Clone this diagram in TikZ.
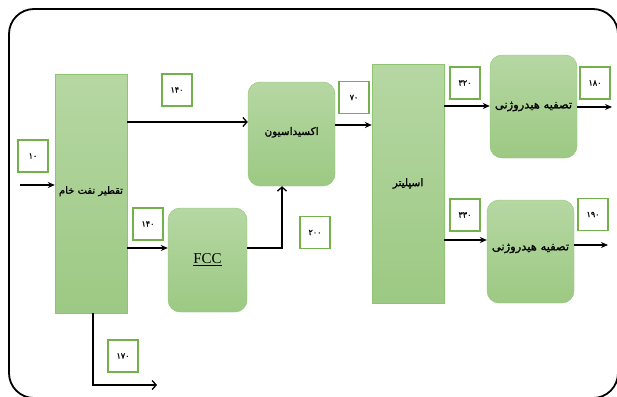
\documentclass[tikz,border=0pt]{standalone}
\usepackage{fontspec}
\setmainfont{Liberation Serif}
\newfontfamily\arabicfont[Script=Arabic, FakeBold=1.2]{DejaVu Sans}
\TeXXeTstate=1
\usetikzlibrary{shapes, arrows.meta}

\definecolor{unittop}{HTML}{B6D7A3}
\definecolor{unitbot}{HTML}{9CC983}
\definecolor{unitline}{HTML}{8EC472}
\definecolor{tagline}{HTML}{74B04C}

\begin{document}
\begin{tikzpicture}[x=1pt, y=-1pt]

\tikzstyle{connector} = [draw, line width=1.3pt, -{Stealth[length=7pt, width=6pt]}]
\tikzstyle{openconnector} = [draw, line width=1.3pt, -{Straight Barb[length=4pt, width=9pt]}]
\tikzstyle{column} = [rectangle, draw=unitline, top color=unittop, bottom color=unitbot, text centered, inner sep=0pt]
\tikzstyle{unit} = [column, rounded corners=12pt]
\tikzstyle{tag} = [rectangle, draw=tagline, line width=1.5pt, fill=white, minimum width=30pt, minimum height=32pt, inner sep=0pt, font=\arabicfont\fontsize{8}{8}\selectfont]

\useasboundingbox (0,0) rectangle (617,396);
\draw[line width=1.8pt, rounded corners=25pt] (9,9) rectangle (618,398);

\node at (91,193.5) [column, minimum width=72pt, minimum height=239pt, font=\arabicfont\fontsize{10}{11}\selectfont] (tower) {\raisebox{7pt}{\beginR تقطیر نفت خام\endR}};
\node at (291.5,134) [unit, minimum width=87pt, minimum height=104pt, font=\arabicfont\fontsize{10.5}{11}\selectfont] (oxid) {\raisebox{6pt}{\beginR اکسیداسیون\endR}};
\node at (207.5,260) [unit, minimum width=79pt, minimum height=104pt, font=\fontsize{15}{18}\selectfont] (fcc) {\underline{FCC}};
\node at (408,183.5) [column, minimum width=72pt, minimum height=239pt, font=\arabicfont\fontsize{10.5}{11}\selectfont] (split) {\beginR اسپلیتر\endR};
\node at (533.5,106.5) [unit, minimum width=87pt, minimum height=103pt, font=\arabicfont\fontsize{11.5}{12}\selectfont] (hydro1) {\beginR تصفیه هیدروژنی\endR};
\node at (530.5,251.5) [unit, minimum width=87pt, minimum height=103pt, font=\arabicfont\fontsize{11.5}{12}\selectfont] (hydro2) {\raisebox{9pt}{\beginR تصفیه هیدروژنی\endR}};

\node [tag] at (33,156) (s10) {۱۰};
\node [tag] at (177,90) (s140a) {۱۴۰};
\node [tag] at (148,224) (s140b) {۱۴۰};
\node [tag] at (315,232.5) (s200) {۲۰۰};
\node [tag] at (354,97.5) (s70) {۷۰};
\node [tag] at (465,83) (s320) {۳۲۰};
\node [tag] at (465,215) (s330) {۳۳۰};
\node [tag] at (595,83) (s180) {۱۸۰};
\node [tag] at (593,214.5) (s190) {۱۹۰};
\node [tag] at (123,356) (s170) {۱۷۰};

\coordinate (feed) at (20,185);
\coordinate (top) at (127,122);
\coordinate (side) at (127,248);
\coordinate (bend) at (282,248);
\coordinate (oxout) at (335,125);
\coordinate (cut1) at (444,106);
\coordinate (cut2) at (444,240);
\coordinate (prod1) at (612,107);
\coordinate (prod2) at (608,245);
\coordinate (bottoms) at (93,313);
\coordinate (residue) at (157,385);

\path [connector] (feed) -- (feed -| tower.west);
\path [openconnector] (top) -- (top -| oxid.west);
\path [connector] (side) -- (side -| fcc.west);
\path [openconnector] (side -| fcc.east) -- (bend) -- (bend |- oxid.south);
\path [connector] (oxout) -- (oxout -| split.west);
\path [connector] (cut1) -- (cut1 -| hydro1.west);
\path [connector] (cut2) -- (cut2 -| hydro2.west);
\path [connector] (prod1 -| hydro1.east) -- (prod1);
\path [connector] (prod2 -| hydro2.east) -- (prod2);
\path [openconnector] (bottoms) |- (residue);

\end{tikzpicture}
\end{document}
